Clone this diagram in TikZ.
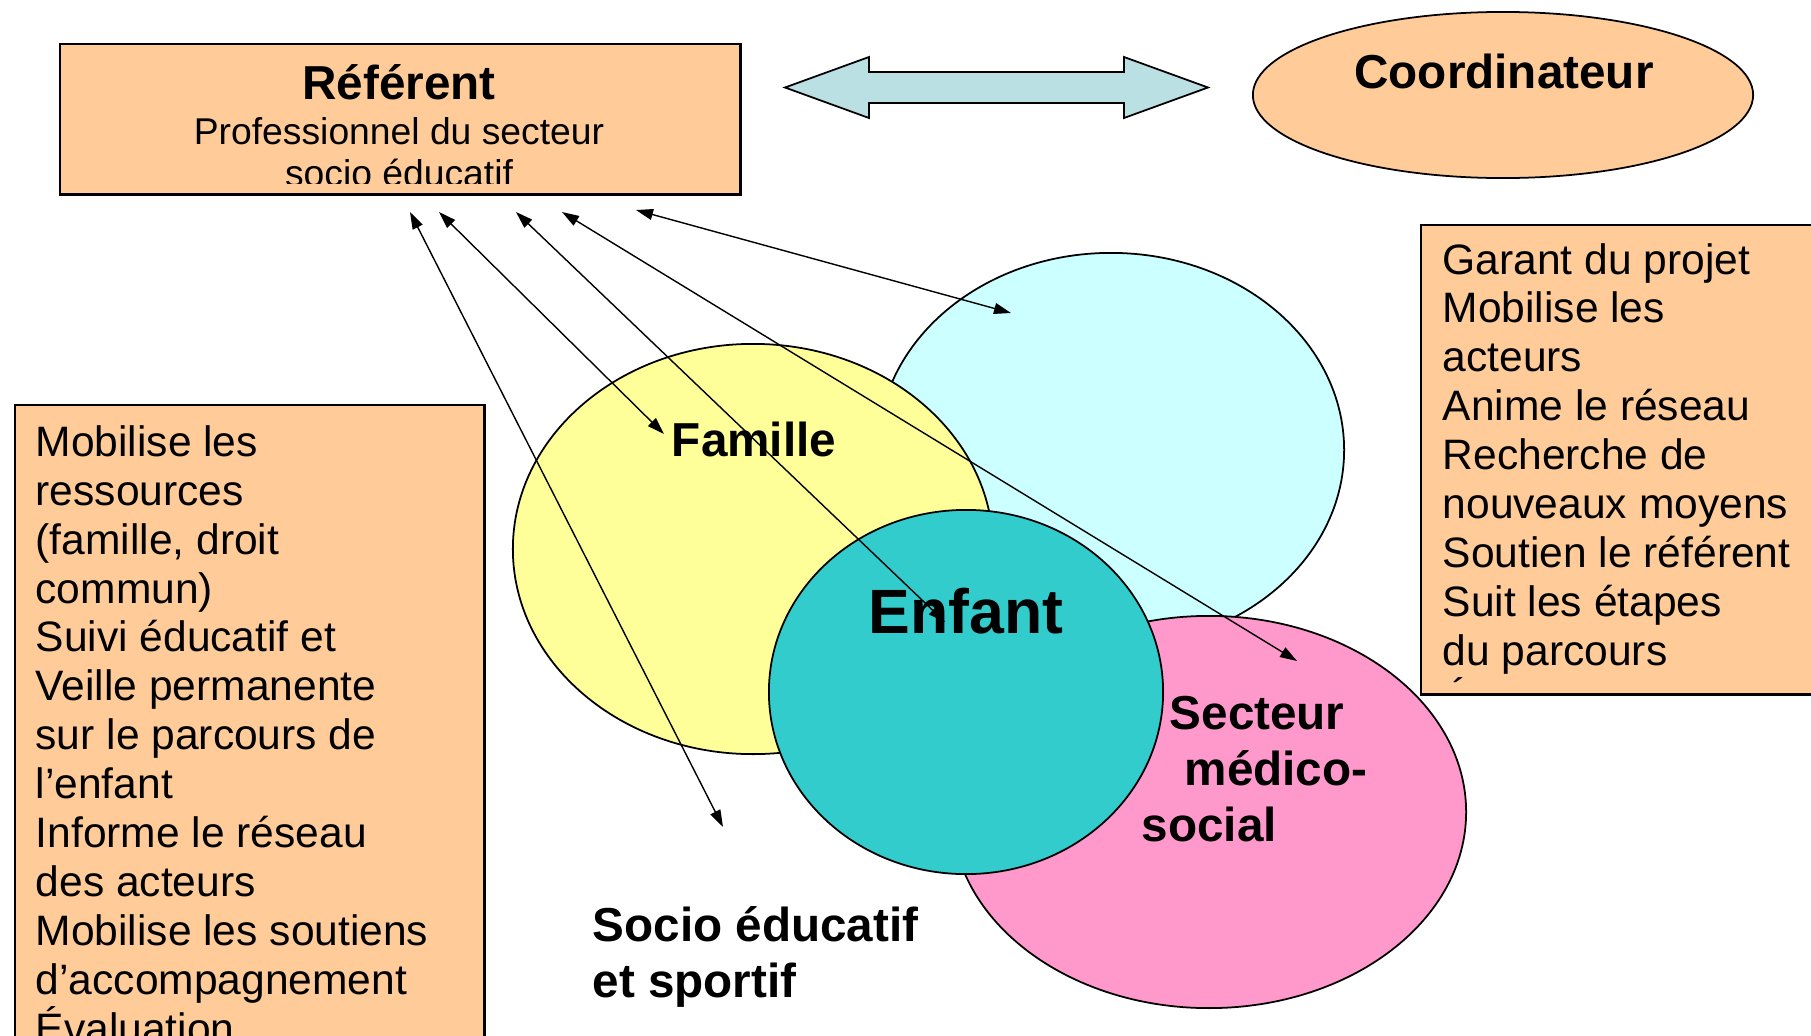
\documentclass[tikz,border=0pt]{standalone}
\usepackage{fontspec}
\setmainfont{Liberation Sans}
\usetikzlibrary{shapes.geometric,arrows.meta}

\definecolor{peach}{HTML}{FFCC99}
\definecolor{paleblue}{HTML}{CCFFFF}
\definecolor{paleyellow}{HTML}{FFFF99}
\definecolor{enfantteal}{HTML}{33CCCC}
\definecolor{medpink}{HTML}{FF99CC}
\definecolor{linkblue}{HTML}{BBE0E3}

\tikzset{
	box/.style={draw, fill=peach, line width=0.7pt, rectangle, inner sep=0pt},
	zone/.style={draw, ellipse, line width=0.5pt, inner sep=0pt},
	body/.style={font=\fontsize{12.1}{13.9}\selectfont, align=left, inner sep=0pt},
	lbl/.style={font=\fontsize{13.55}{15.9}\selectfont\bfseries, inner sep=0pt},
	link/.style={<->, >={Triangle[length=1.7mm,width=1.1mm]}, line width=0.4pt},
}

\begin{document}
\begin{tikzpicture}[x=0.01cm, y=-0.01cm]
			\useasboundingbox (0,0) rectangle (1811,1036);
			% the four zones round the child
			\node[zone, fill=paleblue, minimum width=4.66cm, minimum height=3.94cm] (res) at (1111,450) {};
			\node[zone, fill=paleyellow, minimum width=4.8cm, minimum height=4.1cm] (fam) at (753,549) {};
			\node[zone, fill=medpink, minimum width=5.14cm, minimum height=3.92cm] (med) at (1209,812) {};
			\node[zone, fill=enfantteal, minimum width=3.94cm, minimum height=3.64cm] (enf) at (966,692) {};

			% labels (multi-line nodes sit on their last baseline)
			\node[lbl, anchor=base] (famlbl) at (754,456) {Famille};
			\node[lbl, anchor=base, font=\fontsize{17.8}{20}\selectfont\bfseries] (enflbl) at (966,633) {Enfant};
			\node[lbl, anchor=base west, align=left] (medlbl) at (1141,841) {\hspace*{0.28cm}Secteur\\\hspace*{0.43cm}médico-\\social};
			\node[lbl, anchor=base west, align=left] (soclbl) at (592,997) {Socio éducatif\\et sportif};

			% referent
			\node[box, minimum width=6.8cm, minimum height=1.5cm, anchor=north west] (ref) at (59,43) {};
			\begin{scope}
				\clip (ref.north west) rectangle ([yshift=0.12cm]ref.south east);
				\node[anchor=base, align=center, inner sep=0pt, font=\fontsize{10.6}{11.9}\selectfont] (reftxt) at (399,186)
					{{\fontsize{13.55}{15.9}\selectfont\bfseries Référent}\\[0.9pt]Professionnel du secteur\\socio éducatif};
			\end{scope}

			% coordinateur
			\draw[fill=linkblue, line width=0.5pt] (785,87.5) -- (869,57) -- (869,72) -- (1124,72) -- (1124,57) -- (1208,87.5)
				-- (1124,118) -- (1124,103) -- (869,103) -- (869,118) -- cycle;
			\node[zone, fill=peach, minimum width=5cm, minimum height=1.66cm] (coord) at (1503,95) {};
			\node[lbl, anchor=base] (coordlbl) at (1504,88) {Coordinateur};

			\node[box, anchor=north west, minimum width=4.0cm, minimum height=4.69cm] (coordbox) at (1420,224) {};
			\begin{scope}
				\clip (coordbox.north west) rectangle ([yshift=0.13cm]coordbox.south east);
				\node[body, anchor=base west] (coordtxt) at (1442,714) {Garant du projet\\Mobilise les\\acteurs\\Anime le réseau\\Recherche de\\nouveaux moyens\\Soutien le référent\\Suit les étapes\\du parcours\\Évaluation};
			\end{scope}

			\node[box, anchor=north west, minimum width=4.69cm, minimum height=6.5cm] (refbox) at (14,404) {};
			\node[body, anchor=base west] (reftasks) at (35,1043) {Mobilise les\\ressources\\(famille, droit\\commun)\\Suivi éducatif et\\Veille permanente\\sur le parcours de\\l’enfant\\Informe le réseau\\des acteurs\\Mobilise les soutiens\\d’accompagnement\\Évaluation};

			% links from the referent
			\coordinate (r1) at (410,212);
			\coordinate (r2) at (439,212);
			\coordinate (r3) at (516,212);
			\coordinate (r4) at (562,212);
			\coordinate (r5) at (636,210);
			\coordinate (s1) at (723,827);
			\coordinate (s2) at (664,434);
			\coordinate (s3) at (945,622);
			\coordinate (s4) at (1297,661);
			\coordinate (s5) at (1011,313);
			\draw[link] (r1) -- (s1);
			\draw[link] (r2) -- (s2);
			\draw[link] (r3) -- (s3);
			\draw[link] (r4) -- (s4);
			\draw[link] (r5) -- (s5);
\end{tikzpicture}
\end{document}
